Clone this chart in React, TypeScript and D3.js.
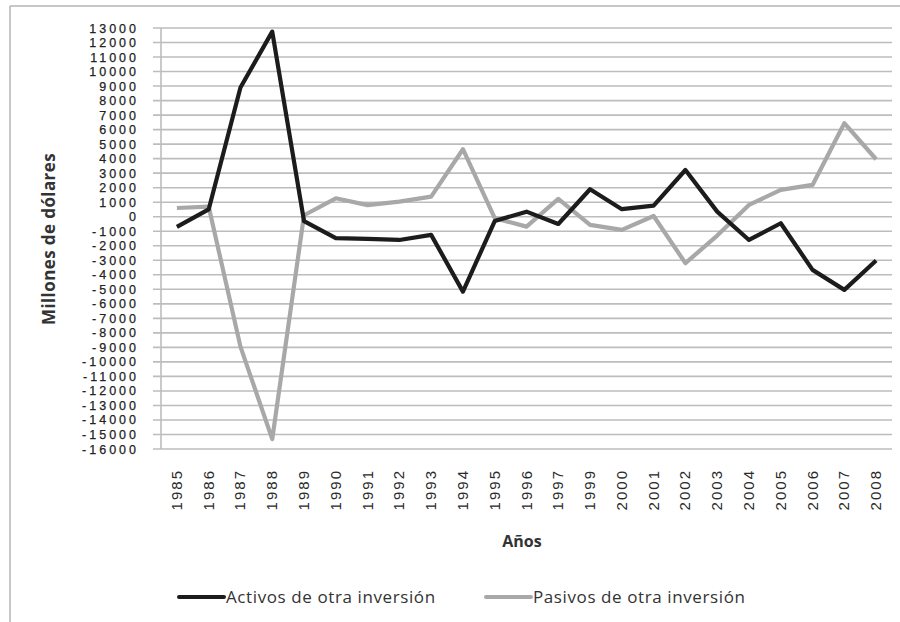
import React from "react";
import { scaleBand, scaleLinear, line, range } from "d3";

const years = [
  "1985", "1986", "1987", "1988", "1989", "1990", "1991", "1992", "1993",
  "1994", "1995", "1996", "1997", "1999", "2000", "2001", "2002", "2003",
  "2004", "2005", "2006", "2007", "2008"
];

// millones de dólares
const activos = [
  -700, 500, 8900, 12750, -300, -1480, -1530, -1600, -1250,
  -5160, -300, 350, -500, 1890, 520, 770, 3220, 350,
  -1600, -450, -3660, -5040, -3020
];

const pasivos = [
  600, 700, -8950, -15320, 100, 1270, 800, 1040, 1380,
  4650, -100, -680, 1230, -560, -910, 50, -3200, -1300,
  810, 1850, 2190, 6440, 3960
];

const seriesNames = ["Activos de otra inversión", "Pasivos de otra inversión"];
const seriesColors = ["#1c1c1c", "#a8a8aa"];

export default function App() {
  const width = 900,
    height = 622;
  const left = 161,
    right = 892,
    top = 28,
    bottom = 449;

  const x = scaleBand().domain(years).range([left, right]);
  const y = scaleLinear().domain([-16000, 13000]).range([bottom, top]);
  const yTicks = range(-16000, 13001, 1000);

  const path = line<number>()
    .x((_, i) => x(years[i])! + x.bandwidth() / 2)
    .y(d => y(d));

  const tickFont = "'Liberation Sans', Arial, sans-serif";
  const textFont = "'Open Sans', 'Noto Sans', sans-serif";

  return (
    <div style={{ position: "absolute", left: 0, top: 0 }}>
      <svg width={width} height={height} style={{ display: "block", background: "#fff" }}>
        {/* marco */}
        <line x1={10} x2={width} y1={6} y2={6} stroke="#b4b4b4" strokeWidth={1.5} />
        <line x1={10} x2={10} y1={6} y2={height} stroke="#b4b4b4" strokeWidth={1.5} />

        {/* rejilla y marcas */}
        {yTicks.map(t => (
          <line
            key={t}
            x1={left - 8}
            x2={right}
            y1={y(t)}
            y2={y(t)}
            stroke="#bdbdbd"
            strokeWidth={1.6}
          />
        ))}
        <line x1={left} x2={left} y1={top} y2={bottom} stroke="#bdbdbd" strokeWidth={1.6} />

        {yTicks.map(t => (
          <text
            key={"l" + t}
            x={139}
            y={y(t)}
            dy="0.36em"
            textAnchor="end"
            style={{ fontFamily: tickFont, fontSize: 12.5, fill: "#222", letterSpacing: 3, stroke: "#222", strokeWidth: 0.25 }}
          >
            {t}
          </text>
        ))}

        {years.map(yr => (
          <text
            key={yr}
            transform={`translate(${x(yr)! + x.bandwidth() / 2 + 5},${469}) rotate(-90)`}
            textAnchor="end"
            style={{ fontFamily: tickFont, fontSize: 15, fill: "#2a2a2a", letterSpacing: 2 }}
          >
            {yr}
          </text>
        ))}

        {/* series */}
        <path d={path(pasivos)!} fill="none" stroke={seriesColors[1]} strokeWidth={4.2} strokeLinejoin="round" />
        <path d={path(activos)!} fill="none" stroke={seriesColors[0]} strokeWidth={4.2} strokeLinejoin="round" />

        {/* títulos de ejes */}
        <text
          transform={`translate(55,239) rotate(-90)`}
          textAnchor="middle"
          style={{ fontFamily: textFont, fontSize: 17, fontWeight: 700, fill: "#333", letterSpacing: 0.4 }}
        >
          Millones de dólares
        </text>
        <text
          x={522}
          y={547}
          textAnchor="middle"
          style={{ fontFamily: textFont, fontSize: 16, fontWeight: 700, fill: "#333" }}
        >
          Años
        </text>

        {/* leyenda */}
        {seriesNames.map((name, i) => {
          const lx = i === 0 ? 179 : 486;
          return (
            <g key={name}>
              <line
                x1={lx}
                x2={lx + 45}
                y1={597}
                y2={597}
                stroke={seriesColors[i]}
                strokeWidth={4}
                strokeLinecap="round"
              />
              <text
                x={lx + 47}
                y={603}
                style={{ fontFamily: textFont, fontSize: 17, fill: "#333", letterSpacing: 0.6 }}
              >
                {name}
              </text>
            </g>
          );
        })}
      </svg>
    </div>
  );
}
